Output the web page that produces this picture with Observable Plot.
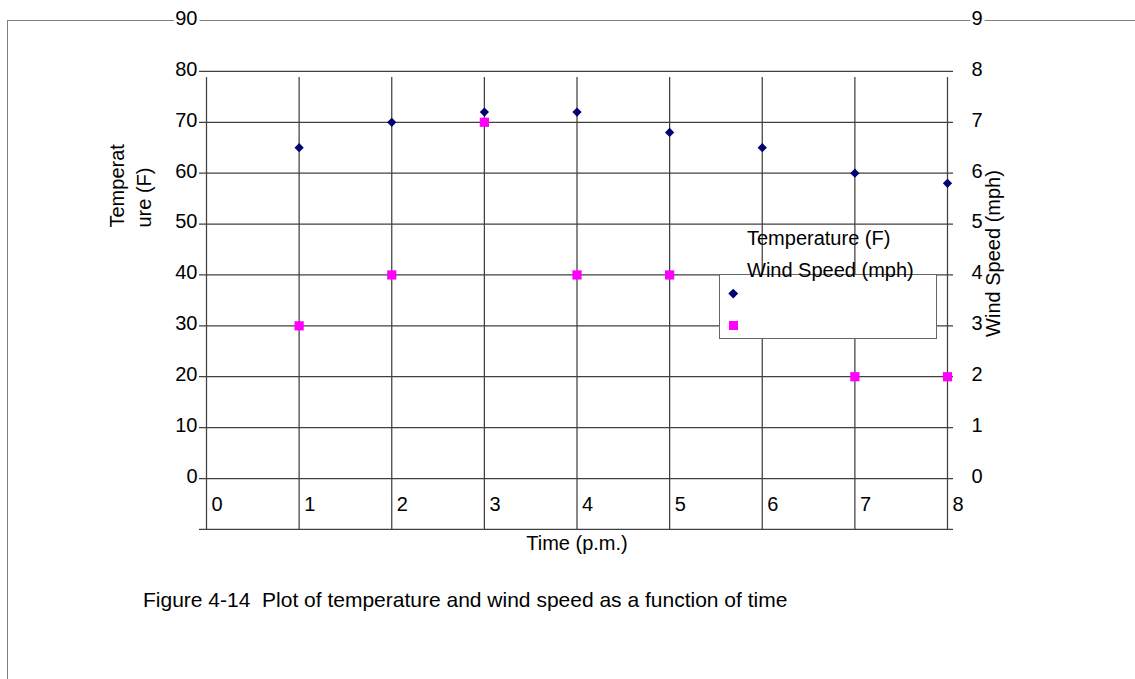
<!DOCTYPE html>
<html>
<head>
<meta charset="utf-8">
<script src="https://cdn.jsdelivr.net/npm/d3@7"></script>
<script src="https://cdn.jsdelivr.net/npm/@observablehq/plot@0.6"></script>
<style>
  html, body { margin: 0; padding: 0; background: #fff; }
  #wrap { position: relative; width: 1135px; height: 679px; overflow: hidden; background: #fff;
          font-family: "Liberation Sans", Arial, sans-serif; color: #000; }
  #frame { position: absolute; left: 7px; top: 20px; right: -4px; bottom: -4px;
           border-top: 1.5px solid #808080; border-left: 1.5px solid #808080; }
  #chart { position: absolute; left: 0; top: 0; }
  #chart svg { background: none !important; }
  .legend-box { position: absolute; left: 719px; top: 274px; width: 218px; height: 65px;
                border: 1.5px solid #666; background: #fff; box-sizing: border-box; }
  .legend-text { position: absolute; left: 747px; font-size: 20px; line-height: 20px; white-space: pre; }
  .mk { position: absolute; }
  .caption { position: absolute; left: 143px; top: 589px; font-size: 21px; line-height: 21px; white-space: pre; }
</style>
</head>
<body>
<div id="wrap">
  <div id="frame"></div>
  <div id="chart"></div>
  <div class="legend-box"></div>
  <div class="legend-text" id="lg1" style="top:228px"></div>
  <div class="legend-text" id="lg2" style="top:260px"></div>
  <div class="mk" id="mk1" style="left:729.5px;top:289.5px;width:6.5px;height:6.5px;transform:rotate(45deg);"></div>
  <div class="mk" id="mk2" style="left:728.5px;top:320.5px;width:9px;height:9px;"></div>
  <div class="caption" id="caption"></div>
</div>
<script>
// ---- data ----
const times = [1, 2, 3, 4, 5, 6, 7, 8];
const temperature = [65, 70, 72, 72, 68, 65, 60, 58];
const windSpeed = [3, 4, 7, 4, 4, 3, 2, 2];
const timeTicks = [0, 1, 2, 3, 4, 5, 6, 7, 8];
const tempTicks = [0, 10, 20, 30, 40, 50, 60, 70, 80, 90];
const windTicks = [0, 1, 2, 3, 4, 5, 6, 7, 8, 9];
const gridTemps = [0, 10, 20, 30, 40, 50, 60, 70, 80];
const seriesNames = ["Temperature (F)", "Wind Speed (mph)"];
const seriesColors = ["#000070", "#ff00ff"];
const xTitle = "Time (p.m.)";
const yLeftTitle = "Temperat\nure (F)";
const yRightTitle = "Wind Speed (mph)";
const captionText = "Figure 4-14  Plot of temperature and wind speed as a function of time";
const xAxisLineTemp = -10;   // the lower axis line sits one temperature step below 0
const windToTemp = 10;       // right axis 0–9 maps onto left axis 0–90

const tempData = times.map((t, i) => ({time: t, value: temperature[i]}));
const windData = times.map((t, i) => ({time: t, value: windSpeed[i]}));

const font = '"Liberation Sans", Arial, sans-serif';
const gridColor = "#404040";

const chart = Plot.plot({
  width: 1135,
  height: 679,
  marginLeft: 206,
  marginRight: 188,
  marginTop: 20,
  marginBottom: 201,
  style: {fontFamily: font, fontSize: "20px", color: "#000", background: "none", overflow: "visible"},
  x: {domain: [0, 8], axis: null},
  y: {domain: [0, 90], axis: null},
  marks: [
    // tick labels (white halo so the border line breaks around 90 / 9)
    Plot.text(tempTicks, {x: 0, y: d => d, text: d => String(d), textAnchor: "end", dx: -9, dy: -2,
      fill: "#000", stroke: "#fff", strokeWidth: 6, fontSize: 20}),
    Plot.text(windTicks, {x: 8, y: d => d * windToTemp, text: d => String(d), textAnchor: "start", dx: 24, dy: -2,
      fill: "#000", stroke: "#fff", strokeWidth: 6, fontSize: 20}),
    // gridlines
    Plot.ruleY(gridTemps, {stroke: gridColor, strokeWidth: 1.25, insetLeft: -7, insetRight: -6}),
    Plot.ruleY([xAxisLineTemp], {stroke: gridColor, strokeWidth: 1.25, insetLeft: -7, insetRight: -6}),
    Plot.ruleX(timeTicks, {y1: xAxisLineTemp, y2: 80, stroke: gridColor, strokeWidth: 1.25, insetBottom: -6}),
    // x tick labels
    Plot.text(timeTicks, {x: d => d, y: 0, text: d => String(d), textAnchor: "start", lineAnchor: "middle",
      dx: 5, dy: 26, fill: "#000", fontSize: 20}),
    // data
    Plot.dot(windData, {x: "time", y: d => d.value * windToTemp, symbol: "square", r: 5.2, fill: seriesColors[1]}),
    Plot.dot(tempData, {x: "time", y: "value", symbol: "square", rotate: 45, r: 3.7, fill: seriesColors[0]}),
    // axis titles
    Plot.text([xTitle], {frameAnchor: "bottom", lineAnchor: "middle", dy: 65, fontSize: 20, fill: "#000"}),
    Plot.text([yLeftTitle], {frameAnchor: "left", rotate: -90, textAnchor: "start", lineAnchor: "middle",
      lineHeight: 1.35, dx: -77.5, dy: -22, fontSize: 20, fill: "#000"}),
    Plot.text([yRightTitle], {frameAnchor: "right", rotate: -90, textAnchor: "middle", lineAnchor: "middle",
      dx: 46, dy: 4, fontSize: 20, fill: "#000"})
  ]
});
document.getElementById("chart").appendChild(chart);

document.getElementById("lg1").textContent = seriesNames[0];
document.getElementById("lg2").textContent = seriesNames[1];
document.getElementById("mk1").style.background = seriesColors[0];
document.getElementById("mk2").style.background = seriesColors[1];
document.getElementById("caption").textContent = captionText;
</script>
</body>
</html>
